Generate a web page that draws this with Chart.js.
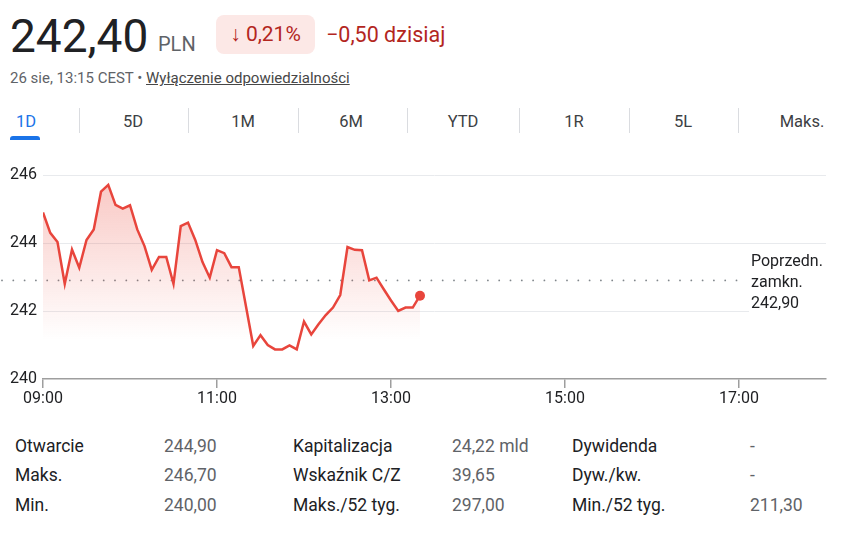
<!DOCTYPE html>
<html><head><meta charset="utf-8">
<script src="https://cdn.jsdelivr.net/npm/chart.js@4.4.0/dist/chart.umd.min.js"></script>
<style>
html,body{margin:0;padding:0;background:#fff;width:841px;height:537px;overflow:hidden;font-family:Roboto,"Noto Sans",Arial,sans-serif;}
.t{position:absolute;line-height:1;white-space:nowrap;}
#price{left:10px;top:13px;font-size:46px;color:#202124;}
#cur{left:158px;top:34px;font-size:20px;color:#5f6368;}
#badge{position:absolute;left:216px;top:15px;width:99px;height:39px;border-radius:8px;background:#fce8e6;color:#b3261e;font-size:21px;line-height:39px;text-align:center;white-space:nowrap;}
#chg{left:326px;top:24px;font-size:21.5px;color:#b3261e;}
#sub{left:10px;top:71px;font-size:15px;color:#5f6368;}
#sub u{color:#474747;}
.tab{position:absolute;top:114px;font-size:16.5px;line-height:1;color:#3c4043;transform:translateX(-50%);white-space:nowrap;}
.sep{position:absolute;top:108px;width:1px;height:25px;background:#dadce0;}
#ul{position:absolute;left:10px;top:136px;width:30px;height:4px;background:#1a73e8;border-radius:3px 3px 0 0;}
#wrap{position:absolute;left:0;top:151px;width:841px;height:260px;}
.lab{position:absolute;font-size:17.5px;line-height:1;color:#202124;white-space:nowrap;}
.val{position:absolute;font-size:17.5px;line-height:1;color:#5f6368;white-space:nowrap;}
</style></head><body>
<div class="t" id="price">242,40</div>
<div class="t" id="cur">PLN</div>
<div id="badge">↓ 0,21%</div>
<div class="t" id="chg">−0,50 dzisiaj</div>
<div class="t" id="sub">26 sie, 13:15 CEST • <u>Wyłączenie odpowiedzialności</u></div>
<div id="ul"></div>
<div id="wrap"><canvas id="c"></canvas></div>
<script>
// ---- data ----
const times = ["09:00","09:05","09:10","09:15","09:20","09:25","09:30","09:35","09:40","09:45",
"09:50","09:55","10:00","10:05","10:10","10:15","10:20","10:25","10:30","10:35",
"10:40","10:45","10:50","10:55","11:00","11:05","11:10","11:15","11:20","11:25",
"11:30","11:35","11:40","11:45","11:50","11:55","12:00","12:05","12:10","12:15",
"12:20","12:25","12:30","12:35","12:40","12:45","12:50","12:55","13:00","13:05",
"13:10","13:15","13:20"];
const prices = [244.90,244.30,244.03,242.80,243.81,243.27,244.09,244.40,245.51,245.71,
245.12,245.01,245.11,244.40,243.91,243.21,243.59,243.59,242.80,244.50,
244.60,244.09,243.44,242.98,243.79,243.70,243.29,243.29,242.13,240.97,
241.29,241.00,240.87,240.87,240.99,240.87,241.69,241.31,241.61,241.88,
242.10,242.47,243.88,243.80,243.79,242.90,242.98,242.64,242.31,242.00,
242.10,242.10,242.45];
const prevClose = 242.90;
const prevCloseLabel = ["Poprzedn.","zamkn.","242,90"];
const yTickValues = [240,242,244,246];
const xTickLabels = ["09:00","11:00","13:00","15:00","17:00"];
const tabs = ["1D","5D","1M","6M","YTD","1R","5L","Maks."];
const statLabels1 = ["Otwarcie","Maks.","Min."];
const statValues1 = ["244,90","246,70","240,00"];
const statLabels2 = ["Kapitalizacja","Wskaźnik C/Z","Maks./52 tyg."];
const statValues2 = ["24,22 mld","39,65","297,00"];
const statLabels3 = ["Dywidenda","Dyw./kw.","Min./52 tyg."];
const statValues3 = ["-","-","211,30"];

// ---- page layout ----
const tabCenters = [26,133,243,351,463,574,683,802];
const sepXs = [79,188,298,407,519,629,738];
tabs.forEach((t,i)=>{const d=document.createElement('div');d.className='tab';d.textContent=t;d.style.left=tabCenters[i]+'px';if(i===0)d.style.color='#1a73e8';document.body.appendChild(d);});
sepXs.forEach(x=>{const d=document.createElement('div');d.className='sep';d.style.left=x+'px';document.body.appendChild(d);});
const rowTops=[437.5,467,496.5];
function col(arr,x,cls){arr.forEach((s,i)=>{const d=document.createElement('div');d.className=cls;d.textContent=s;d.style.left=x+'px';d.style.top=rowTops[i]+'px';document.body.appendChild(d);});}
col(statLabels1,15,'lab');col(statValues1,164,'val');
col(statLabels2,293,'lab');col(statValues2,452,'val');
col(statLabels3,572,'lab');col(statValues3,750,'val');

// ---- chart ----
const toMin = s => { const [h,m]=s.split(':').map(Number); return (h-9)*60+m; };
const pts = times.map((t,i)=>({x:toMin(t),y:prices[i]}));
const RED = '#e8453c';

const prevPlugin = {
  id:'prevClose',
  beforeDatasetsDraw(chart){
    const y = chart.scales.y.getPixelForValue(prevClose);
    const ctx = chart.ctx; ctx.save(); ctx.fillStyle='#80868b';
    for(let x=2;x<=745;x+=11.3){ctx.beginPath();ctx.arc(x,y,0.9,0,Math.PI*2);ctx.fill();}
    ctx.restore();
  },
  afterDraw(chart){
    const y = chart.scales.y.getPixelForValue(prevClose);
    const ctx = chart.ctx; ctx.save();
    ctx.fillStyle='#fff'; ctx.fillRect(749,y-30,92,66);
    ctx.fillStyle='#202124'; ctx.font='16px Roboto'; ctx.textBaseline='alphabetic'; ctx.textAlign='left';
    prevCloseLabel.forEach((s,i)=>ctx.fillText(s,751,y-14+i*20.8));
    ctx.restore();
  }
};

new Chart(document.getElementById('c'),{
  type:'line',
  data:{datasets:[{
    data:pts,
    borderColor:RED,
    borderWidth:2.5,
    tension:0,
    fill:{target:{value:240}},
    backgroundColor:(c)=>{const a=c.chart.chartArea;if(!a)return 'rgba(234,67,53,0.15)';
      const g=c.chart.ctx.createLinearGradient(0,a.top,0,a.top+165);
      g.addColorStop(0,'rgba(234,67,53,0.30)');g.addColorStop(1,'rgba(234,67,53,0)');return g;},
    pointRadius:(c)=>c.dataIndex===prices.length-1?5:0,
    pointBackgroundColor:RED,
    pointBorderWidth:0,
    pointHoverRadius:0
  }]},
  options:{
    responsive:true,maintainAspectRatio:false,animation:false,
    layout:{padding:{top:24,right:15,left:10,bottom:0}},
    plugins:{legend:{display:false},tooltip:{enabled:false}},
    events:[],
    scales:{
      x:{type:'linear',min:0,max:540,
        afterFit(s){s.height=32;},
        border:{color:'#9e9e9e',width:1.5},
        grid:{drawOnChartArea:false,drawTicks:true,tickLength:9,color:'#9e9e9e',lineWidth:1.5},
        ticks:{stepSize:120,includeBounds:false,autoSkip:false,maxRotation:0,padding:1,
          color:'#202124',font:{family:'Roboto',size:16},
          callback:(v)=>xTickLabels[Math.round(v/120)]}
      },
      y:{min:240,max:246,
        afterFit(s){s.width=33;},
        border:{display:false},
        grid:{drawTicks:false,color:(c)=>c.tick && c.tick.value===yTickValues[0]?'rgba(0,0,0,0)':'#e8eaed',lineWidth:1},
        afterBuildTicks(s){s.ticks=yTickValues.map(v=>({value:v}));},
        ticks:{crossAlign:'far',padding:0,color:'#202124',font:{family:'Roboto',size:16},callback:(v)=>String(v)}
      }
    }
  },
  plugins:[prevPlugin]
});
</script>
</body></html>
